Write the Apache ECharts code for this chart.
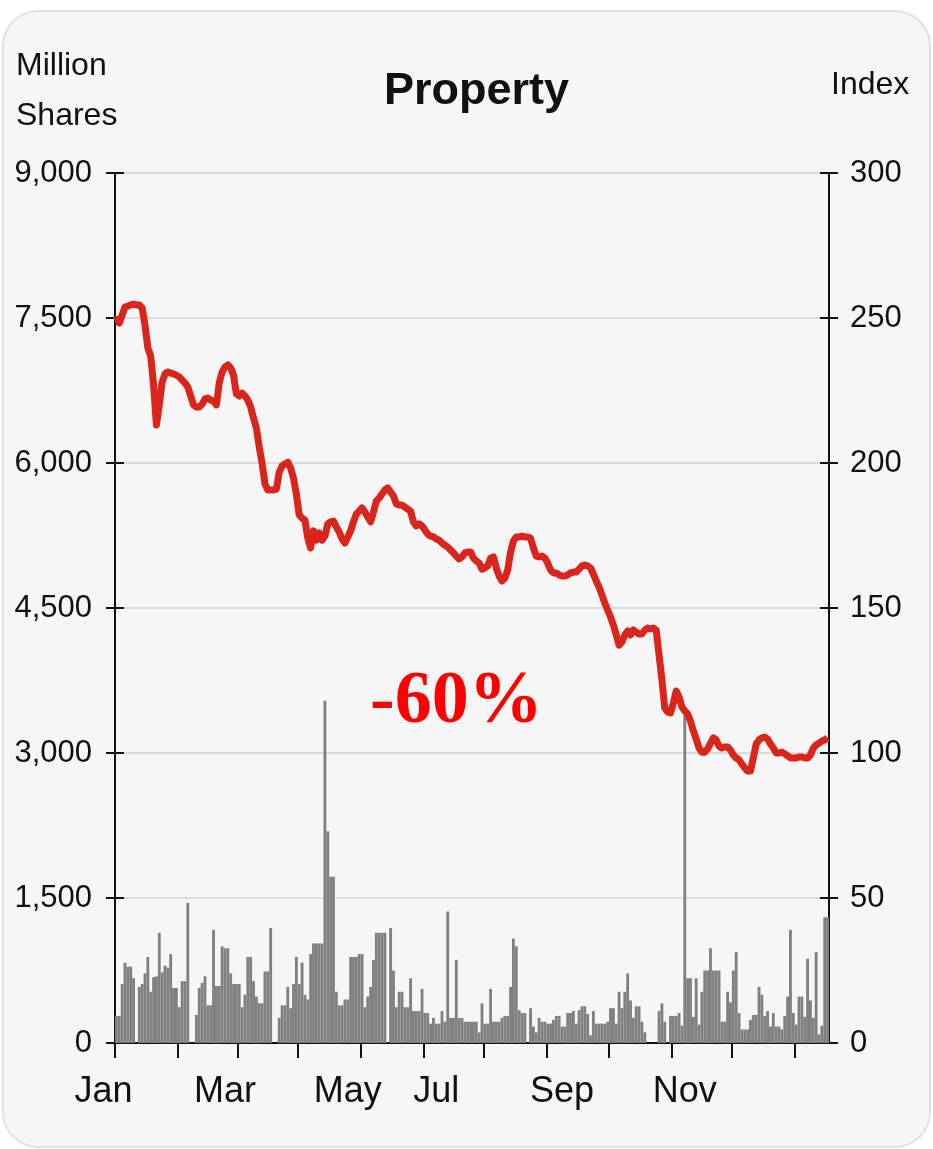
<!DOCTYPE html>
<html>
<head>
<meta charset="utf-8">
<script src="https://cdn.jsdelivr.net/npm/echarts@6/dist/echarts.min.js"></script>
<style>
  html, body { margin: 0; padding: 0; background: #fff; }
  #box {
    position: absolute; left: 2px; top: 10px; width: 925px; height: 1134px;
    background: #f6f6f6; border: 2px solid #e2e2e2; border-radius: 36px;
  }
  #chart { position: absolute; left: 0; top: 0; width: 933px; height: 1149px; }
</style>
</head>
<body>
<div id="box"></div>
<div id="chart"></div>
<script>
// Property index (right axis) and turnover in million shares (left axis), one entry per trading day
const indexValues = [
  250.7, 248.3, 251.0, 253.8, 254.1, 254.5, 254.8, 254.5, 254.5, 253.4,
  247.6, 239.7, 236.9, 226.9, 213.1, 220.0, 227.9, 230.7, 231.4, 231.0,
  230.7, 230.3, 229.7, 228.6, 227.6, 226.2, 223.1, 220.0, 219.3, 219.3,
  220.3, 222.1, 222.4, 221.7, 221.4, 220.0, 227.6, 231.4, 233.1, 233.8,
  232.8, 230.3, 223.8, 223.1, 224.1, 223.1, 221.7, 219.3, 215.5, 212.1,
  205.5, 200.0, 192.8, 190.7, 190.7, 190.7, 191.0, 196.9, 199.0, 199.7,
  200.3, 198.3, 194.8, 189.3, 182.1, 181.0, 180.3, 174.1, 170.7, 176.6,
  173.4, 175.9, 173.4, 174.8, 179.0, 179.7, 180.0, 177.9, 176.2, 173.8,
  172.4, 174.5, 176.6, 179.7, 182.4, 183.4, 184.5, 183.1, 181.4, 179.7,
  183.1, 186.9, 187.9, 189.3, 190.7, 191.4, 190.0, 188.6, 185.9, 185.5,
  185.5, 184.8, 184.1, 183.4, 179.7, 178.3, 179.0, 178.3, 176.9, 175.5,
  174.8, 174.5, 173.8, 173.4, 172.4, 171.7, 171.0, 170.0, 169.0, 167.9,
  166.9, 167.6, 169.0, 169.3, 169.3, 167.2, 166.2, 165.5, 163.4, 163.8,
  164.5, 167.2, 167.6, 163.8, 161.0, 159.3, 160.3, 163.1, 169.3, 173.1,
  174.5, 174.5, 174.8, 174.5, 174.5, 174.1, 170.7, 167.9, 167.6, 167.9,
  167.2, 165.5, 163.1, 162.1, 162.1, 161.4, 161.0, 161.0, 161.4, 162.1,
  162.4, 162.4, 163.4, 164.5, 164.8, 164.5, 163.8, 161.7, 159.3, 157.2,
  154.5, 151.7, 149.3, 146.9, 144.1, 140.7, 137.2, 138.3, 140.7, 142.1,
  140.7, 142.4, 141.7, 141.0, 141.0, 142.4, 143.1, 142.8, 143.1, 142.4,
  133.8, 125.2, 115.5, 114.1, 113.8, 117.2, 121.4, 119.3, 115.9, 114.5,
  113.4, 111.0, 107.6, 104.8, 101.7, 100.3, 100.3, 101.4, 103.4, 105.2,
  104.5, 102.4, 101.7, 102.1, 102.1, 101.0, 99.3, 98.3, 97.6, 96.2,
  94.8, 93.8, 93.8, 98.3, 103.1, 104.5, 105.2, 105.5, 104.8, 103.1,
  101.7, 100.0, 100.0, 100.3, 99.7, 99.0, 98.3, 98.3, 98.3, 98.6,
  98.6, 98.3, 98.3, 99.3, 101.7, 102.8, 103.4, 104.1, 104.5, 105.2
];

const volumes = [
  280, 280, 610, 830, 790, 790, 670, 0, 580, 610,
  720, 890, 530, 680, 690, 1140, 730, 800, 780, 920,
  570, 570, 370, 640, 640, 1450, 0, 0, 290, 570,
  620, 690, 390, 390, 1170, 590, 590, 1000, 980, 980,
  720, 610, 610, 610, 370, 500, 890, 890, 640, 480,
  410, 410, 740, 740, 1190, 0, 0, 260, 390, 390,
  580, 360, 610, 890, 610, 830, 500, 450, 920, 1030,
  1030, 1030, 1030, 3540, 2190, 1720, 1720, 530, 390, 390,
  450, 450, 890, 890, 890, 920, 920, 370, 480, 580,
  860, 1140, 1140, 1140, 1140, 0, 1190, 750, 370, 530,
  530, 370, 370, 670, 330, 330, 330, 560, 310, 310,
  200, 260, 200, 200, 330, 220, 1360, 260, 260, 860,
  260, 260, 220, 220, 220, 220, 220, 110, 410, 200,
  200, 560, 220, 220, 220, 260, 280, 280, 580, 1080,
  1000, 340, 310, 310, 0, 360, 170, 110, 260, 220,
  220, 200, 200, 240, 280, 280, 170, 170, 310, 310,
  330, 200, 340, 380, 380, 300, 80, 330, 200, 200,
  200, 200, 220, 360, 360, 200, 530, 360, 530, 720,
  440, 260, 380, 380, 220, 110, 0, 0, 0, 0,
  330, 410, 220, 0, 280, 280, 280, 310, 180, 3400,
  670, 670, 270, 670, 190, 530, 750, 750, 980, 750,
  750, 750, 220, 220, 530, 420, 750, 940, 310, 140,
  140, 140, 240, 290, 290, 580, 500, 280, 330, 170,
  310, 170, 170, 140, 280, 480, 1170, 310, 190, 480,
  480, 270, 870, 440, 260, 940, 90, 180, 1300, 1300
];

// trading-day index where each month starts, and where the month names sit
const monthTickIdx = [0, 22, 43, 64, 86, 108, 129, 151, 173, 195, 216, 238];
const monthLabels = ['Jan', 'Mar', 'May', 'Jul', 'Sep', 'Nov'];
const monthLabelIdx = [0, 38, 81, 112, 156, 199];

const days = indexValues.map((v, i) => i);

const sans = "'Liberation Sans', Arial, sans-serif";

const chart = echarts.init(document.getElementById('chart'));

// extra axes that only draw the inner half of the crossing ticks
const tickOnly = (pos) => ({
  type: 'value', position: pos, min: 0, max: pos === 'left' ? 9000 : 300,
  interval: pos === 'left' ? 1500 : 50,
  axisLine: { show: false },
  axisTick: { show: true, inside: true, length: 9, lineStyle: { color: '#111', width: 2 } },
  axisLabel: { show: false },
  splitLine: { show: false }
});

const option = {
  backgroundColor: 'transparent',
  animation: false,
  title: {
    text: 'Property',
    left: 379, top: 64,
    textStyle: { fontFamily: sans, fontWeight: 'bold', fontSize: 45, color: '#111' }
  },
  graphic: [
    { type: 'text', left: 16, top: 41,
      style: { text: 'Million\nShares', font: '32px ' + sans, fill: '#111', lineHeight: 50 } },
    { type: 'text', left: 831, top: 69,
      style: { text: 'Index', font: '32px ' + sans, fill: '#111' } },
    { type: 'text', left: 370, top: 666,
      style: { text: '-60%', font: 'bold 74px "Liberation Serif", "Times New Roman", serif', fill: '#ff0000' } }
  ],
  grid: { left: 115, right: 104, top: 173, bottom: 106, containLabel: false },
  xAxis: [
    {
      type: 'category',
      data: days,
      boundaryGap: true,
      axisLine: { lineStyle: { color: '#111', width: 2 } },
      axisTick: { show: false },
      axisLabel: {
        interval: (i) => monthLabelIdx.includes(i),
        formatter: (v) => {
          const k = monthLabelIdx.indexOf(Number(v));
          if (k < 0) return '';
          return k === 0 ? '{first|' + monthLabels[k] + '}' : monthLabels[k];
        },
        margin: 31,
        fontFamily: sans, fontSize: 36, color: '#111',
        rich: { first: { fontFamily: sans, fontSize: 36, color: '#111', padding: [0, 26, 0, 0] } }
      },
      splitLine: { show: false }
    },
    {
      // month-start ticks, in trading-day units along the same span
      type: 'value',
      position: 'bottom',
      min: 0, max: days.length,
      axisLine: { show: false },
      axisTick: { show: true, length: 15, lineStyle: { color: '#111', width: 2 }, customValues: monthTickIdx },
      axisLabel: { show: false },
      splitLine: { show: false }
    }
  ],
  yAxis: [
    {
      type: 'value', position: 'left', min: 0, max: 9000, interval: 1500,
      axisLine: { show: true, lineStyle: { color: '#111', width: 2 } },
      axisTick: { show: true, length: 9, lineStyle: { color: '#111', width: 2 } },
      axisLabel: {
        margin: 23, fontFamily: sans, fontSize: 31, color: '#111',
        formatter: (v) => v.toLocaleString('en-US')
      },
      splitLine: { show: true, lineStyle: { color: '#dcdcdc', width: 2 } }
    },
    {
      type: 'value', position: 'right', min: 0, max: 300, interval: 50,
      axisLine: { show: true, lineStyle: { color: '#111', width: 2 } },
      axisTick: { show: true, length: 9, lineStyle: { color: '#111', width: 2 } },
      axisLabel: { margin: 21, fontFamily: sans, fontSize: 31, color: '#111' },
      splitLine: { show: false }
    },
    tickOnly('left'),
    tickOnly('right')
  ],
  series: [
    {
      name: 'Volume',
      type: 'bar',
      xAxisIndex: 0,
      yAxisIndex: 0,
      data: volumes,
      barCategoryGap: '0%',
      itemStyle: { color: '#808080' }
    },
    {
      name: 'Index',
      type: 'line',
      xAxisIndex: 0,
      yAxisIndex: 1,
      data: indexValues,
      symbol: 'none',
      lineStyle: { color: '#da251d', width: 7, join: 'round' },
      z: 5
    }
  ]
};

chart.setOption(option);
</script>
</body>
</html>
